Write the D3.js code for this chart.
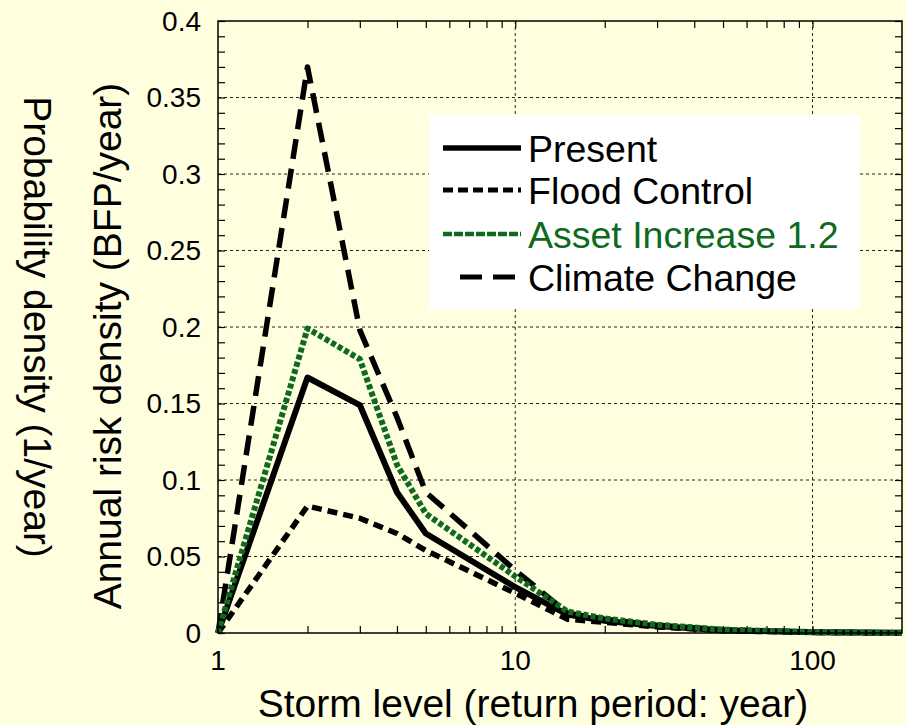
<!DOCTYPE html>
<html>
<head>
<meta charset="utf-8">
<script src="https://cdn.jsdelivr.net/npm/d3@7"></script>
<style>
  html, body { margin: 0; padding: 0; background: #FFFFE0; }
  svg { display: block; }
  text { font-family: "Liberation Sans", Arial, sans-serif; }
</style>
</head>
<body>
<svg id="chart" width="906" height="725"></svg>
<script>
// Storm return periods (years) and annual risk density per scenario
const returnPeriods = [1, 2, 3, 4, 5, 10, 15, 20, 30, 50, 100, 200];
const present       = [0, 0.167, 0.149, 0.092, 0.065, 0.030, 0.012, 0.008, 0.0045, 0.0018, 0.0005, 0.0001];
const floodControl  = [0, 0.083, 0.075, 0.065, 0.054, 0.026, 0.009, 0.007, 0.004, 0.0015, 0.0004, 0.0001];
const assetIncrease = [0, 0.199, 0.179, 0.110, 0.078, 0.037, 0.014, 0.0095, 0.0054, 0.0022, 0.0006, 0.0001];
const climateChange = [0, 0.370, 0.198, 0.141, 0.092, 0.041, 0.013, 0.009, 0.005, 0.002, 0.0005, 0.0001];

const seriesNames = ["Present", "Flood Control", "Asset Increase 1.2", "Climate Change"];
const xTickLabels = [1, 10, 100];
const yTickLabels = [0, 0.05, 0.1, 0.15, 0.2, 0.25, 0.3, 0.35, 0.4];

const GREEN = "#0f6a20";
const series = [
  { name: seriesNames[0], values: present,       color: "#000", width: 6,   dash: null,     legendDash: null,    legendWidth: 5.5 },
  { name: seriesNames[1], values: floodControl,  color: "#000", width: 5.5, dash: "10,6",   legendDash: "10,5",  legendWidth: 5 },
  { name: seriesNames[3], values: climateChange, color: "#000", width: 5.5, dash: "20,10",  legendDash: "22,11", legendWidth: 5 },
  { name: seriesNames[2], values: assetIncrease, color: GREEN,  width: 6,   dash: "5,2.5",  legendDash: "9,2",   legendWidth: 4.5 }
];

const svg = d3.select("#chart");
const plot = { left: 218, right: 902, top: 21, bottom: 633 };

const x = d3.scaleLog().domain([1, 200]).range([plot.left, plot.right]);
const y = d3.scaleLinear().domain([0, 0.4]).range([plot.bottom, plot.top]);

// page background
svg.append("rect").attr("x", 0).attr("y", 0).attr("width", 906).attr("height", 725).attr("fill", "#FFFFE0");

// dotted grid at major ticks
const grid = svg.append("g").attr("stroke", "#222").attr("stroke-width", 1).attr("stroke-dasharray", "3,3");
yTickLabels.filter(v => v > 0 && v < 0.4).forEach(v => {
  grid.append("line").attr("x1", plot.left).attr("x2", plot.right).attr("y1", y(v)).attr("y2", y(v));
});
xTickLabels.filter(v => v > 1).forEach(v => {
  grid.append("line").attr("y1", plot.top).attr("y2", plot.bottom).attr("x1", x(v)).attr("x2", x(v));
});

// inward ticks on all four sides
const tickLen = 7;
const minorY = d3.range(0, 0.4001, 0.01);
const yAxisL = d3.axisRight(y).tickValues(minorY).tickSize(tickLen).tickFormat("");
const yAxisR = d3.axisLeft(y).tickValues(minorY).tickSize(tickLen).tickFormat("");
const logTicks = x.ticks().filter(v => v > 1 && v < 200);
const xAxisB = d3.axisTop(x).tickValues(logTicks).tickSize(tickLen).tickFormat("");
const xAxisT = d3.axisBottom(x).tickValues(logTicks).tickSize(tickLen).tickFormat("");
[
  [yAxisL, `translate(${plot.left},0)`],
  [yAxisR, `translate(${plot.right},0)`],
  [xAxisB, `translate(0,${plot.bottom})`],
  [xAxisT, `translate(0,${plot.top})`]
].forEach(([ax, tr]) => {
  const g = svg.append("g").attr("transform", tr).call(ax);
  g.select(".domain").remove();
  g.selectAll("line").attr("stroke", "#000").attr("stroke-width", 1.2);
});

// tick labels
svg.append("g").selectAll("text").data(yTickLabels).join("text")
  .attr("x", 201).attr("y", d => y(d)).attr("dy", "0.35em")
  .attr("text-anchor", "end").attr("font-size", 28).attr("fill", "#000")
  .text(d => d3.format("~g")(d));
svg.append("g").selectAll("text").data(xTickLabels).join("text")
  .attr("x", d => x(d)).attr("y", 670)
  .attr("text-anchor", "middle").attr("font-size", 28).attr("fill", "#000")
  .text(d => d);

// data lines
const line = d3.line().x((d, i) => x(returnPeriods[i])).y(d => y(d));
series.forEach(s => {
  svg.append("path").datum(s.values)
    .attr("d", line)
    .attr("fill", "none")
    .attr("stroke", s.color)
    .attr("stroke-width", s.width)
    .attr("stroke-linejoin", "round")
    .attr("stroke-dasharray", s.dash);
});

// frame
svg.append("rect")
  .attr("x", plot.left).attr("y", plot.top)
  .attr("width", plot.right - plot.left).attr("height", plot.bottom - plot.top)
  .attr("fill", "none").attr("stroke", "#000").attr("stroke-width", 1.5);

// legend
const legend = svg.append("g");
legend.append("rect").attr("x", 429).attr("y", 115).attr("width", 431).attr("height", 194).attr("fill", "#fff");
const legendOrder = [series[0], series[1], series[3], series[2]];
const rowY = [148, 190, 234, 277];
legendOrder.forEach((s, i) => {
  legend.append("line")
    .attr("x1", s.name === "Climate Change" ? 460 : 443).attr("x2", 521)
    .attr("y1", rowY[i]).attr("y2", rowY[i])
    .attr("stroke", s.color).attr("stroke-width", s.legendWidth)
    .attr("stroke-dasharray", s.legendDash);
  legend.append("text")
    .attr("x", 528).attr("y", rowY[i]).attr("dy", "0.36em")
    .attr("font-size", 37.5).attr("fill", s.color === GREEN ? GREEN : "#000")
    .text(s.name);
});

// axis titles
svg.append("text")
  .attr("x", 533).attr("y", 717)
  .attr("text-anchor", "middle").attr("font-size", 39).attr("fill", "#000")
  .text("Storm level (return period: year)");
svg.append("text")
  .attr("transform", "translate(121,346) rotate(-90)")
  .attr("text-anchor", "middle").attr("font-size", 39).attr("fill", "#000")
  .text("Annual risk density (BFP/year)");
svg.append("text")
  .attr("transform", "translate(24,327) rotate(90)")
  .attr("text-anchor", "middle").attr("font-size", 39).attr("fill", "#000")
  .text("Probability density (1/year)");
</script>
</body>
</html>
